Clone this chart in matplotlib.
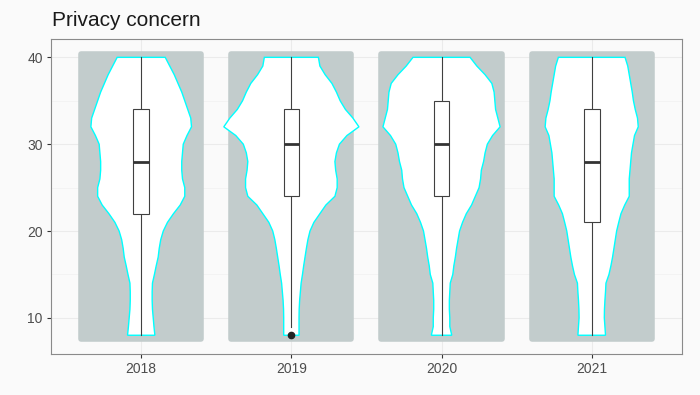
import numpy as np
import matplotlib
matplotlib.use("Agg")
import matplotlib.pyplot as plt
from matplotlib.patches import Rectangle

plt.rcParams['font.family'] = ['Liberation Sans', 'DejaVu Sans']

# --- data ---
years = ['2018', '2019', '2020', '2021']
score_min, score_max = 8, 40

# violin half-widths (x units) at each score level 8..40
levels = list(range(8, 41))
vio_2018 = [0.091, 0.085, 0.08, 0.075, 0.073, 0.073, 0.075, 0.088, 0.1, 0.113, 0.12,
            0.13, 0.147, 0.175, 0.215, 0.26, 0.29, 0.29, 0.275, 0.27, 0.27, 0.275,
            0.28, 0.305, 0.335, 0.33, 0.31, 0.29, 0.27, 0.245, 0.22, 0.19, 0.16]
vio_2019 = [0.051, 0.051, 0.051, 0.052, 0.055, 0.06, 0.065, 0.074, 0.082, 0.091, 0.1,
            0.11, 0.124, 0.15, 0.19, 0.23, 0.29, 0.305, 0.305, 0.295, 0.29, 0.3,
            0.32, 0.37, 0.45, 0.41, 0.36, 0.325, 0.3, 0.27, 0.225, 0.19, 0.18]
vio_2020 = [0.068, 0.055, 0.055, 0.052, 0.052, 0.055, 0.058, 0.075, 0.082, 0.092, 0.1,
            0.11, 0.12, 0.14, 0.165, 0.2, 0.225, 0.25, 0.26, 0.265, 0.28, 0.29,
            0.305, 0.34, 0.39, 0.375, 0.36, 0.355, 0.35, 0.335, 0.29, 0.235, 0.19]
vio_2021 = [0.092, 0.088, 0.084, 0.085, 0.088, 0.092, 0.095, 0.115, 0.128, 0.139, 0.148,
            0.157, 0.166, 0.18, 0.195, 0.22, 0.25, 0.25, 0.25, 0.255, 0.26, 0.265,
            0.275, 0.285, 0.31, 0.305, 0.29, 0.278, 0.27, 0.26, 0.25, 0.24, 0.222]
violins = [vio_2018, vio_2019, vio_2020, vio_2021]

# boxplot stats
q1 = [22, 24, 24, 21]
med = [28, 30, 30, 28]
q3 = [34, 34, 35, 34]
whis_lo = [8, 9, 8, 8]
whis_hi = [40, 40, 40, 40]
outliers = [[], [8], [], []]

# --- style ---
bg = '#fafafa'
pt_col = '#c2cccc'
jit = 0.4

fig = plt.figure(figsize=(7, 3.95), dpi=100, facecolor=bg)
ax = fig.add_axes([0.073, 0.104, 0.901, 0.797])
ax.set_facecolor(bg)

for i in range(len(years)):
    x = i + 1
    # jittered point cloud (drawn as the area it covers)
    ax.add_patch(Rectangle((x - jit, score_min - 0.4), 2 * jit, score_max - score_min + 0.8,
                           facecolor=pt_col, edgecolor=pt_col, linewidth=4,
                           joinstyle='round', zorder=2))
    # violin
    hw = np.array(violins[i])
    lv = np.array(levels)
    xs = np.concatenate([x - hw, (x + hw)[::-1]])
    ys = np.concatenate([lv, lv[::-1]])
    ax.fill(xs, ys, facecolor='white', edgecolor='#00ffff', linewidth=1.0, zorder=3)
    # box
    bw = 0.052
    ax.plot([x, x], [whis_lo[i], q1[i]], color='#404040', lw=0.8, zorder=4)
    ax.plot([x, x], [q3[i], whis_hi[i]], color='#404040', lw=0.8, zorder=4)
    ax.add_patch(Rectangle((x - bw, q1[i]), 2 * bw, q3[i] - q1[i], facecolor='white',
                           edgecolor='#404040', linewidth=0.8, zorder=4))
    ax.plot([x - bw, x + bw], [med[i], med[i]], color='#333333', lw=2, zorder=5,
            solid_capstyle='butt')
    for o in outliers[i]:
        ax.plot(x, o, 'o', color='#222222', ms=4.5, zorder=5)

ax.set_xlim(0.4, 4.6)
ax.set_ylim(5.85, 42.1)
ax.set_xticks(range(1, len(years) + 1))
ax.set_xticklabels(years)
ax.set_yticks([10, 20, 30, 40])
ax.set_yticks([15, 25, 35], minor=True)

ax.grid(True, which='major', color='#ebebeb', lw=0.8, zorder=0)
ax.grid(True, which='minor', axis='y', color='#f0f0f0', lw=0.5, zorder=0)
ax.set_axisbelow(True)

for s in ax.spines.values():
    s.set_color('#8a8a8a')
    s.set_linewidth(0.8)
ax.tick_params(which='major', length=3, width=0.8, color='#333333',
               labelsize=10, labelcolor='#4d4d4d', pad=3)
ax.tick_params(which='minor', length=0)

fig.text(0.074, 0.935, 'Privacy concern', fontsize=15, color='#1a1a1a',
         ha='left', va='baseline')

fig.savefig('out.png', dpi=100, facecolor=bg)
